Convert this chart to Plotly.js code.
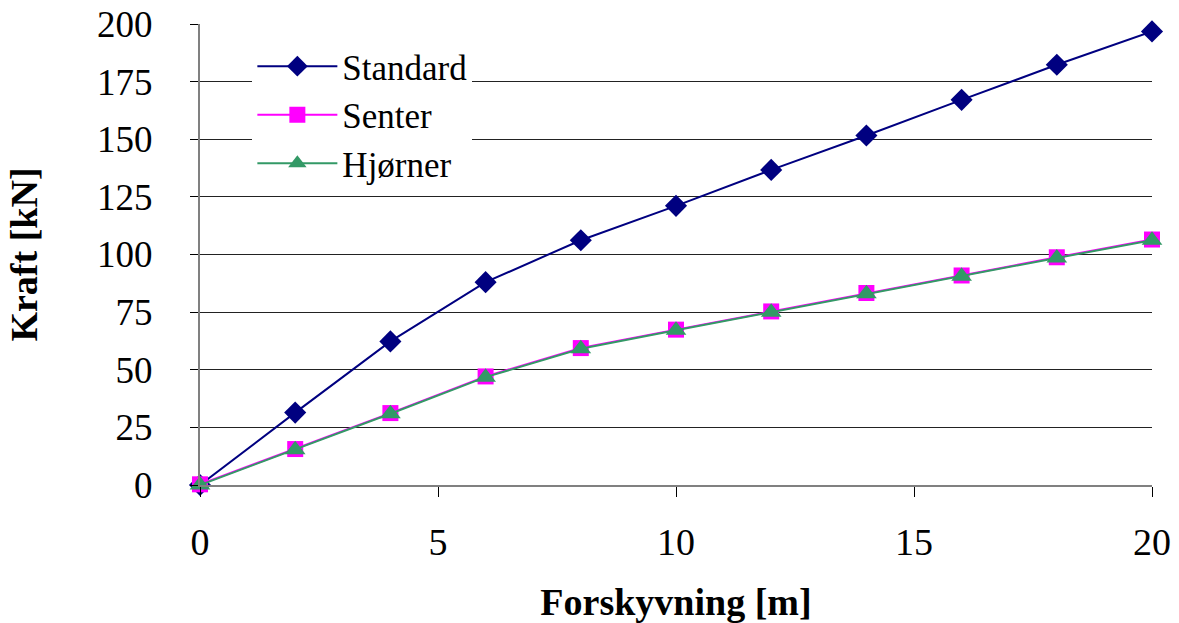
<!DOCTYPE html>
<html>
<head>
<meta charset="utf-8">
<script src="https://cdn.plot.ly/plotly-3.0.1.min.js"></script>
<style>html,body{margin:0;padding:0;background:#fff;}#chart{width:1179px;height:623px;}</style>
</head>
<body>
<div id="chart"></div>
<script>
const displacement = [0, 2, 4, 6, 8, 10, 12, 14, 16, 18, 20];
const standard = [0, 31.4, 62.3, 88.0, 106.2, 121.1, 136.7, 151.6, 167.1, 182.3, 196.8];
const senter = [0.3, 15.6, 31.2, 47.1, 59.4, 67.4, 75.3, 83.3, 90.9, 98.8, 106.5];
const hjorner = [0, 15.3, 30.9, 46.8, 59.1, 67.1, 75.0, 83.0, 90.6, 98.5, 106.2];
const yTicks = [0, 25, 50, 75, 100, 125, 150, 175, 200];
const xTicks = [0, 5, 10, 15, 20];

const serif = "Liberation Serif, Times New Roman, serif";

const traces = [
  {x: displacement, y: standard, name: "Standard", mode: "lines+markers",
   line: {color: "#000080", width: 2},
   marker: {symbol: "diamond", size: 17, color: "#000080"}, cliponaxis: false},
  {x: displacement, y: senter, name: "Senter", mode: "lines+markers",
   line: {color: "#FF00FF", width: 2},
   marker: {symbol: "square", size: 16, color: "#FF00FF"}, cliponaxis: false},
  {x: displacement, y: hjorner, name: "Hjørner", mode: "lines+markers",
   line: {color: "#339966", width: 2},
   marker: {symbol: "triangle-up", size: 18, color: "#339966"}, cliponaxis: false}
];

const layout = {
  width: 1179, height: 623,
  margin: {l: 200, r: 27, t: 24, b: 138},
  paper_bgcolor: "#fff", plot_bgcolor: "#fff",
  font: {family: serif},
  showlegend: true,
  legend: {x: 0.055, y: 0.972, xanchor: "left", yanchor: "top",
           bgcolor: "#fff", borderwidth: 0, itemwidth: 80,
           font: {family: serif, size: 35, color: "#000"}, tracegroupgap: 0},
  xaxis: {range: [0, 20], tickvals: xTicks, ticktext: xTicks.map(String),
          showgrid: false, zeroline: false, showline: true, linecolor: "#808080", linewidth: 2,
          ticks: "outside", ticklen: 10, tickcolor: "#000", tickwidth: 1,
          ticklabelstandoff: 12,
          tickfont: {family: serif, size: 38, color: "#000"},
          title: {text: "<b>Forskyvning [m]</b>", font: {family: serif, size: 38, color: "#000"}, standoff: 28}},
  yaxis: {range: [0, 200], tickvals: yTicks, ticktext: yTicks.map(String),
          showgrid: true, gridcolor: "#222", gridwidth: 1, zeroline: false,
          showline: true, linecolor: "#808080", linewidth: 2,
          ticks: "outside", ticklen: 8, tickcolor: "#000", tickwidth: 1,
          ticklabelstandoff: 30,
          tickfont: {family: serif, size: 37, color: "#000"},
          title: {text: "<b>Kraft [kN]</b>", font: {family: serif, size: 38, color: "#000"}, standoff: 48}}
};

Plotly.newPlot("chart", traces, layout, {displayModeBar: false, staticPlot: true});
</script>
</body>
</html>
